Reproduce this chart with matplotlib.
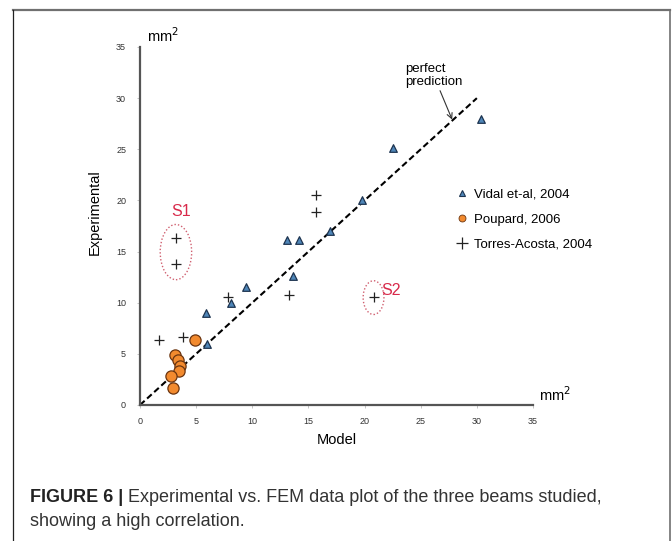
import matplotlib
matplotlib.use("Agg")
import matplotlib.pyplot as plt
from matplotlib.patches import Ellipse
from matplotlib.lines import Line2D

plt.rcParams['font.family'] = ['Liberation Sans', 'DejaVu Sans']

# Data
vidal_x = [5.9, 6.0, 8.1, 9.4, 13.1, 14.2, 13.6, 16.9, 19.8, 22.5, 30.4]
vidal_y = [9.0, 6.0, 10.0, 11.5, 16.1, 16.1, 12.6, 17.0, 20.0, 25.1, 28.0]
poupard_x = [4.9, 3.1, 3.4, 3.6, 3.5, 2.8, 2.9]
poupard_y = [6.4, 4.9, 4.4, 3.8, 3.3, 2.8, 1.7]
torres_x = [3.2, 3.2, 1.7, 3.8, 7.8, 13.3, 15.7, 15.7, 20.8]
torres_y = [16.3, 13.8, 6.4, 6.6, 10.6, 10.8, 18.9, 20.5, 10.6]
perfect_x = [0, 30]
perfect_y = [0, 30]
ticks = [0, 5, 10, 15, 20, 25, 30, 35]

W, H = 672, 541
fig = plt.figure(figsize=(W / 100, H / 100), dpi=100)

# outer frame
fig.add_artist(Line2D([13 / W, 670 / W], [1 - 10 / H, 1 - 10 / H], transform=fig.transFigure,
                      color='#707070', lw=1.6))
fig.add_artist(Line2D([13 / W, 13 / W], [0, 1 - 10 / H], transform=fig.transFigure,
                      color='#222222', lw=0.9))
fig.add_artist(Line2D([670 / W, 670 / W], [0, 1 - 10 / H], transform=fig.transFigure,
                      color='#707070', lw=1.2))

x0, x1 = 140, 533
y0, y1 = 405, 47
ax = fig.add_axes([x0 / W, 1 - y0 / H, (x1 - x0) / W, (y0 - y1) / H])
ax.set_xlim(0, 35)
ax.set_ylim(0, 35)
for s in ['top', 'right']:
    ax.spines[s].set_visible(False)
for s in ['left', 'bottom']:
    ax.spines[s].set_color('#555555')
    ax.spines[s].set_linewidth(1.6)
ax.set_xticks(ticks)
ax.set_yticks(ticks)
ax.tick_params(axis='both', length=2, width=0.6, color='#bbbbbb', labelsize=6.5,
               labelcolor='#333333', pad=7)
ax.tick_params(axis='y', pad=8)
ax.set_facecolor('none')

ax.plot(perfect_x, perfect_y, color='black', ls=(0, (3, 1.6)), lw=1.5, zorder=2)

ax.scatter(vidal_x, vidal_y, marker='^', s=30, facecolor='#4f86b8', edgecolor='#1d3450',
           linewidth=0.9, zorder=3)
ax.scatter(poupard_x, poupard_y, marker='o', s=65, facecolor='#f28a2e', edgecolor='#6b3510',
           linewidth=0.9, zorder=3)
ax.scatter(torres_x, torres_y, marker='+', s=45, color='#222222', linewidth=0.9, zorder=3)

red = '#d8294a'
ax.add_patch(Ellipse((3.2, 14.95), 2.8, 5.4, fill=False, edgecolor='#d06070', ls=(0, (1, 1.5)),
                     lw=1.0))
ax.add_patch(Ellipse((20.8, 10.5), 1.85, 3.3, fill=False, edgecolor='#d06070', ls=(0, (1, 1.5)),
                     lw=1.0))
ax.text(3.7, 18.9, 'S1', color=red, fontsize=11.5, ha='center', va='center')
ax.text(21.5, 11.2, 'S2', color=red, fontsize=11.5, ha='left', va='center')

ax.annotate('perfect\nprediction', xy=(27.8, 27.9), xytext=(23.6, 31.0),
            fontsize=9.5, ha='left', va='bottom', linespacing=1.1,
            arrowprops=dict(arrowstyle='->', color='#333333', lw=0.8, shrinkA=0, shrinkB=0))

ax.text(0.6, 35.2, 'mm$^2$', fontsize=10.5, ha='left', va='bottom')
ax.text(35.5, 0.1, 'mm$^2$', fontsize=10.5, ha='left', va='bottom')

fig.text(337 / W, 1 - 440 / H, 'Model', fontsize=10.5, ha='center', va='center')
fig.text(95 / W, 1 - 212 / H, 'Experimental', fontsize=10.5, ha='center', va='center',
         rotation=90)

handles = [
    Line2D([], [], marker='^', ls='none', markersize=5, markerfacecolor='#4f86b8',
           markeredgecolor='#1d3450', markeredgewidth=0.8),
    Line2D([], [], marker='o', ls='none', markersize=5, markerfacecolor='#f28a2e',
           markeredgecolor='#6b3510', markeredgewidth=0.6),
    Line2D([], [], marker='+', ls='none', markersize=8, color='#222222', markeredgewidth=0.9),
]
labels = ['Vidal et-al, 2004', 'Poupard, 2006', 'Torres-Acosta, 2004']
fig.legend(handles, labels, loc='upper left', bbox_to_anchor=(450 / W, 1 - 182 / H),
           frameon=False, fontsize=9.5, handlelength=0.8, handletextpad=0.5,
           labelspacing=0.95, borderpad=0)

fig.text(30 / W, 1 - 497 / H, 'FIGURE 6 |', fontsize=13, fontweight='bold', ha='left',
         va='center', color='#222222')
fig.text(128 / W, 1 - 497 / H, 'Experimental vs. FEM data plot of the three beams studied,',
         fontsize=13, ha='left', va='center', color='#333333')
fig.text(30 / W, 1 - 522 / H, 'showing a high correlation.', fontsize=13, ha='left',
         va='center', color='#333333')

fig.savefig('out.png', dpi=100)
